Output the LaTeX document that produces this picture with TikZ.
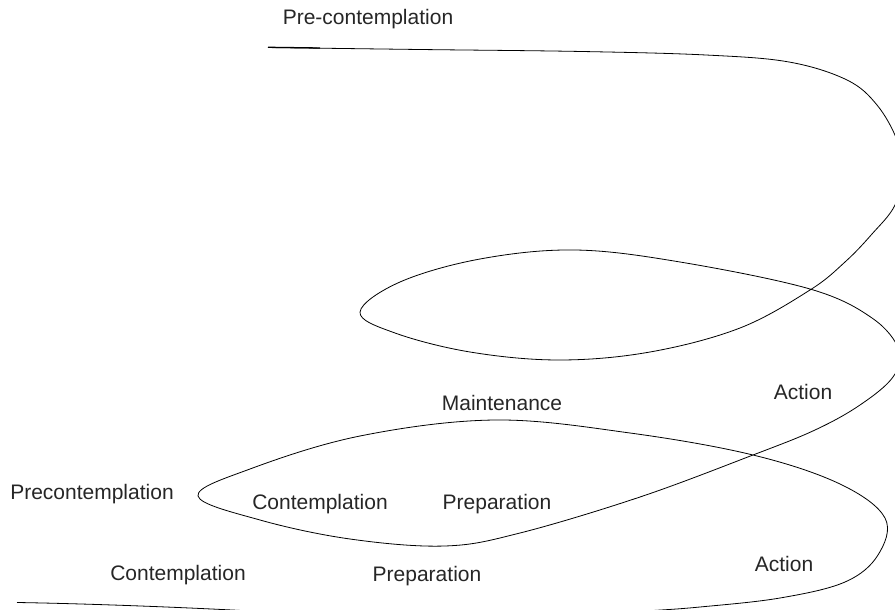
\documentclass[tikz,border=0pt]{standalone}
\usepackage{fontspec}
\setmainfont{Liberation Sans}
\begin{document}
\begin{tikzpicture}[x=1pt,y=-1pt,
  stage/.style={font=\fontsize{21}{25}\selectfont, text=black!85, inner sep=0pt, anchor=center},
  spiral/.style={line width=0.8pt, line join=round}]
\useasboundingbox (0,0) rectangle (895,610);

% stage labels
\node[stage] (pre1)  at (368,19)  {Pre-contemplation};
\node[stage] (act1)  at (803,392) {Action};
\node[stage] (maint) at (502,403) {Maintenance};
\node[stage] (pre2)  at (92,494)  {Precontemplation};
\node[stage] (cont1) at (320,504) {Contemplation};
\node[stage] (prep1) at (497,504) {Preparation};
\node[stage] (act2)  at (784,564) {Action};
\node[stage] (cont2) at (178,575) {Contemplation};
\node[stage] (prep2) at (427,576) {Preparation};

% the spiral, clipped at the page edges
\begin{scope}
\clip (0,0) rectangle (895,610);
\draw[spiral] plot[smooth, tension=0.6] coordinates {
  (268,47.5) (420,49.5) (582,51.5) (706,55) (789,62) (847,80) (877,105)
  (897,140) (902,170) (895,205) (872,234) (845,262) (810,290) (740,328)
  (650,352) (559,360) (470,352) (395,333) (360,312)
  (400,282) (480,259) (575,250) (680,262) (810,289) (872,318)
  (899,350) (893,377) (860,405) (815,430) (753,455) (640,497)
  (520,533) (445,546) (350,539) (260,520) (198,496)
  (250,469) (360,436) (495,420) (630,433) (753,455) (840,484)
  (885,518) (878,555) (845,582) (780,598) (700,607) (645,611)
  (560,616) (400,618) (260,612)
};
\draw[spiral] (260,611.5) .. controls (180,607) and (80,603.5) .. (17,602.5);
% heavier lead-in stroke at the top left
\draw[line width=1.3pt] (268,47.3) -- (320,48);
\end{scope}
\end{tikzpicture}
\end{document}
